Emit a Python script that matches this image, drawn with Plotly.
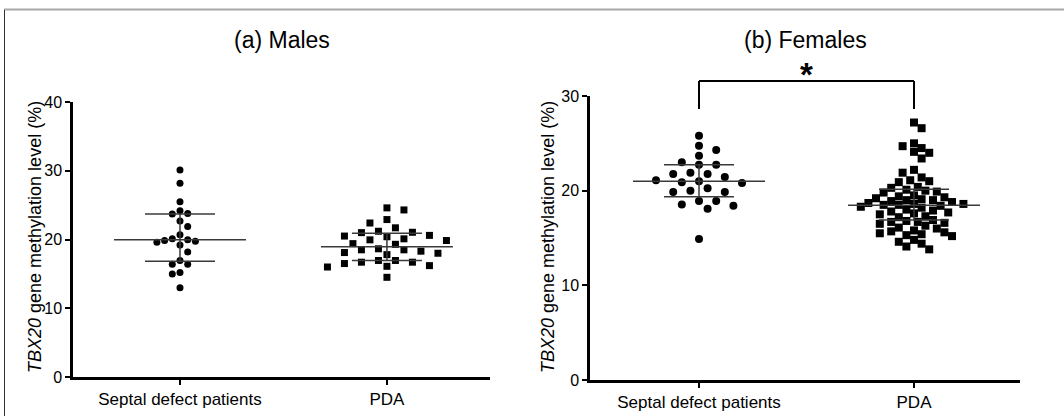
import plotly.graph_objects as go

W, H = 1064, 416

# ---------------- data ----------------
categories = ["Septal defect patients", "PDA"]
panel_titles = ["(a) Males", "(b) Females"]
y_title = "<i>TBX20</i> gene methylation level (%)"
significance = "*"

male_septal = [30.1, 28.2, 25.5, 24.2, 23.8, 23.7, 22.7, 21.9, 20.7, 20.1, 19.95,
               19.85, 19.75, 19.6, 19.2, 18.2, 16.95, 16.4, 16.4, 15.2, 15.0, 13.0]
male_pda = [24.6, 24.3, 22.9, 22.4, 21.7, 21.2, 21.05, 21.0, 20.6, 20.5, 20.4, 20.1,
            19.95, 19.85, 19.4, 19.3, 18.65, 18.5, 18.5, 18.3, 18.1, 18.0, 17.8,
            16.95, 16.95, 16.7, 16.7, 16.5, 16.2, 16.1, 16.0, 14.5]
female_septal = [25.8, 24.75, 24.3, 23.7, 23.0, 22.75, 22.75, 21.9, 21.75, 21.75,
                 21.45, 21.1, 21.0, 20.9, 20.8, 20.25, 20.0, 19.85, 19.85, 18.9,
                 18.9, 18.55, 18.4, 18.1, 14.9]
female_pda = [27.2, 26.6,
              25.0, 24.7, 24.5, 24.1, 24.0, 23.4,
              22.2, 21.9, 21.4, 21.1, 21.0, 20.9,
              20.4, 20.3, 20.1, 20.0, 19.9, 19.8,
              19.5, 19.4, 19.3, 19.2, 19.1, 19.0, 19.0, 18.9,
              18.8, 18.7, 18.6, 18.6, 18.5, 18.5, 18.4, 18.3, 18.2, 18.0,
              17.9, 17.8, 17.7, 17.6, 17.5, 17.3, 17.2,
              16.9, 16.8, 16.7, 16.7, 16.6, 16.5, 16.3, 16.1, 16.0,
              15.8, 15.7, 15.6, 15.5, 15.4, 15.3, 15.2,
              14.8, 14.6, 14.4, 14.1, 13.8]

# centre line and error-bar ends as drawn
male_center = [19.95, 18.95]
male_low = [16.85, 16.95]
male_high = [23.7, 20.9]
female_center = [21.0, 18.45]
female_low = [19.35, 16.9]
female_high = [22.75, 20.15]

y_ticks_left = [0, 10, 20, 30, 40]
y_ticks_right = [0, 10, 20, 30]

# ---------------- layout geometry (pixels) ----------------
LEFT = dict(x0=73, x1=490, ytop=102, ybot=377, xr=[-0.517, 1.498], yr=[0, 40])
RIGHT = dict(x0=590, x1=1020, ytop=96, ybot=380, xr=[-0.507, 1.493], yr=[0, 30])


def dom(p):
    return ([p["x0"] / W, p["x1"] / W], [(H - p["ybot"]) / H, (H - p["ytop"]) / H])


def px_per(p):
    px_x = (p["x1"] - p["x0"]) / (p["xr"][1] - p["xr"][0])
    px_y = (p["ybot"] - p["ytop"]) / (p["yr"][1] - p["yr"][0])
    return px_x, px_y


def swarm(values, px_x, px_y, dmin, row_dy, row_dx):
    """Scatter-dot layout: offsets (x data units) so that markers do not collide.
    Points nearly level (within row_dy px) keep row_dx px apart, others dmin px."""
    order = sorted(range(len(values)), key=lambda i: -values[i])
    placed = []
    offs = [0.0] * len(values)
    step = dmin / 2.0
    flip = 1
    for i in order:
        y = values[i] * px_y
        cands = [0.0]
        for j in range(1, 80):
            cands += [flip * j * step, -flip * j * step]
        chosen = 0.0
        for c in cands:
            ok = True
            for a, b in placed:
                dx, dy = abs(c - a), abs(y - b)
                if dy < row_dy and dx < row_dx - 0.01:
                    ok = False
                    break
                if dy < dmin and dx < dmin - 0.01:
                    ok = False
                    break
            if ok:
                chosen = c
                break
        if chosen != 0:
            flip = -flip
        placed.append((chosen, y))
        offs[i] = chosen / px_x
    return offs


fig = go.Figure()

LINE_COL = "#3a3a3a"


def add_panel(p, groups, symbols, sizes, lay, center, low, high, xa, ya):
    px_x, px_y = px_per(p)
    for k, vals in enumerate(groups):
        offs = swarm(vals, px_x, px_y, *lay[k])
        fig.add_trace(go.Scatter(
            x=[k + o for o in offs], y=vals, mode="markers",
            marker=dict(symbol=symbols[k], size=sizes[k], color="black", line=dict(width=0)),
            xaxis=xa, yaxis=ya, showlegend=False, hoverinfo="y"))
    mean_hw = 66 / px_x
    sd_hw = 35 / px_x
    for k in range(len(groups)):
        for xs, ys in [([k - mean_hw, k + mean_hw], [center[k]] * 2),
                       ([k - sd_hw, k + sd_hw], [high[k]] * 2),
                       ([k - sd_hw, k + sd_hw], [low[k]] * 2),
                       ([k, k], [low[k], high[k]])]:
            fig.add_trace(go.Scatter(x=xs, y=ys, mode="lines",
                                     line=dict(color=LINE_COL, width=1.5),
                                     xaxis=xa, yaxis=ya, showlegend=False, hoverinfo="skip"))


add_panel(LEFT, [male_septal, male_pda], ["circle", "square"], [7, 7],
          [(7.7, 2.0, 7.7), (8.5, 5.5, 17.0)],
          male_center, male_low, male_high, "x", "y")
add_panel(RIGHT, [female_septal, female_pda], ["circle", "square"], [8, 8],
          [(8.6, 7.0, 17.2), (7.6, 3.0, 10.0)],
          female_center, female_low, female_high, "x2", "y2")

FONT = "Arial, Liberation Sans, sans-serif"

axis_common = dict(showline=True, linecolor="black", linewidth=2.5, ticks="outside",
                   ticklen=5, tickwidth=2, tickcolor="black", showgrid=False,
                   zeroline=False, automargin=False,
                   tickfont=dict(family=FONT, size=16, color="black"))

ldx, ldy = dom(LEFT)
rdx, rdy = dom(RIGHT)

fig.update_layout(
    template="none",
    width=W, height=H, margin=dict(l=0, r=0, t=0, b=0, pad=0, autoexpand=False),
    autosize=False, showlegend=False,
    paper_bgcolor="white", plot_bgcolor="white",
    font=dict(family=FONT, color="black"),
    xaxis=dict(domain=ldx, range=LEFT["xr"], tickvals=[0, 1], ticktext=categories,
               anchor="y", **axis_common),
    yaxis=dict(domain=ldy, range=LEFT["yr"], tickvals=y_ticks_left, anchor="x", **axis_common),
    xaxis2=dict(domain=rdx, range=RIGHT["xr"], tickvals=[0, 1], ticktext=categories,
                anchor="y2", **axis_common),
    yaxis2=dict(domain=rdy, range=RIGHT["yr"], tickvals=y_ticks_right, anchor="x2", **axis_common),
)
fig.update_xaxes(tickfont=dict(size=17))

annotations = []
for d_x, d_y, t, tx in [(ldx, ldy, panel_titles[0], 35), (rdx, rdy, panel_titles[1], 548)]:
    annotations.append(dict(x=(d_x[0] + d_x[1]) / 2, y=(H - 40) / H, xref="paper", yref="paper",
                            text=t, showarrow=False, xanchor="center", yanchor="middle",
                            font=dict(family=FONT, size=23, color="black")))
    annotations.append(dict(x=tx / W, y=(H - 237) / H, xref="paper", yref="paper",
                            text=y_title, textangle=-90, showarrow=False,
                            xanchor="center", yanchor="middle",
                            font=dict(family=FONT, size=18, color="black")))

# significance star
annotations.append(dict(x=0.5, xref="x2", y=(H - 54) / H, yref="paper",
                        text="<b>" + significance + "</b>",
                        showarrow=False, xanchor="center", yanchor="top",
                        font=dict(family=FONT, size=33, color="black")))
fig.update_layout(annotations=annotations)

br_top = (H - 81) / H
br_bot = (H - 109) / H
shapes = [
    dict(type="line", xref="x2", yref="paper", x0=0, x1=1, y0=br_top, y1=br_top,
         line=dict(color="black", width=2)),
    dict(type="line", xref="x2", yref="paper", x0=0, x1=0, y0=br_top, y1=br_bot,
         line=dict(color="black", width=2)),
    dict(type="line", xref="x2", yref="paper", x0=1, x1=1, y0=br_top, y1=br_bot,
         line=dict(color="black", width=2)),
    # figure frame edges visible in the reference
    dict(type="line", xref="paper", yref="paper", x0=4 / W, x1=1, y0=(H - 9.5) / H, y1=(H - 9.5) / H,
         line=dict(color="#a8a8a8", width=2)),
    dict(type="line", xref="paper", yref="paper", x0=4.5 / W, x1=4.5 / W, y0=0, y1=(H - 10) / H,
         line=dict(color="#303030", width=1)),
]
fig.update_layout(shapes=shapes)

# place the figure at the page origin (no default body margin), no mode bar
fig.write_html("out.html", config={"displayModeBar": False},
               post_script="document.body.style.margin='0px';document.body.style.overflow='hidden';")
